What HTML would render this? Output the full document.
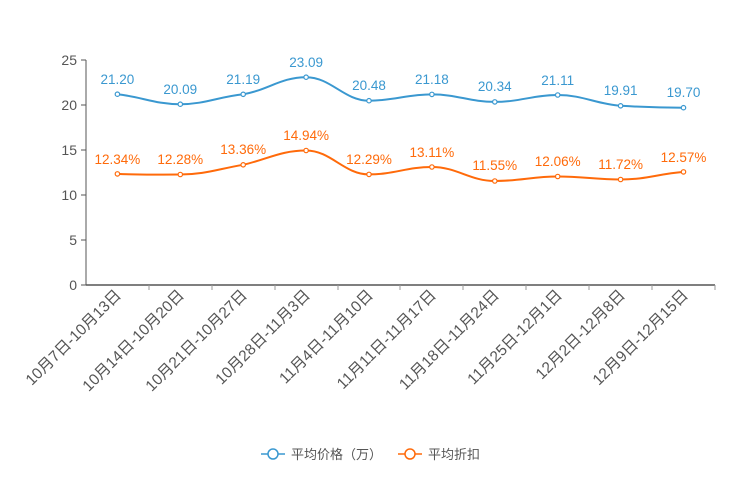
<!DOCTYPE html>
<html><head><meta charset="utf-8"><style>body{margin:0;background:#fff}svg{display:block}text{font-family:"Liberation Sans","Noto Sans CJK SC",sans-serif}.dv{font-family:"DejaVu Sans","Noto Sans CJK SC",sans-serif}</style></head><body>
<svg width="744" height="496" viewBox="0 0 744 496">
<g stroke="#555" stroke-width="1">
<line x1="86" y1="60" x2="86" y2="285"/><line x1="86" y1="285" x2="715" y2="285" stroke-width="1.5"/>
<line x1="81" y1="60" x2="86" y2="60"/><line x1="81" y1="105" x2="86" y2="105"/><line x1="81" y1="150" x2="86" y2="150"/><line x1="81" y1="195" x2="86" y2="195"/><line x1="81" y1="240" x2="86" y2="240"/><line x1="81" y1="285" x2="86" y2="285"/>
</g>
<g stroke="#999" stroke-width="1">
<line x1="149" y1="285" x2="149" y2="290"/><line x1="212" y1="285" x2="212" y2="290"/><line x1="275" y1="285" x2="275" y2="290"/><line x1="338" y1="285" x2="338" y2="290"/><line x1="400" y1="285" x2="400" y2="290"/><line x1="463" y1="285" x2="463" y2="290"/><line x1="526" y1="285" x2="526" y2="290"/><line x1="589" y1="285" x2="589" y2="290"/><line x1="652" y1="285" x2="652" y2="290"/><line x1="715" y1="285" x2="715" y2="290"/>
</g>
<g font-size="14" fill="#555" text-anchor="end" class="dv">
<text x="77" y="65">25</text><text x="77" y="110">20</text><text x="77" y="155">15</text><text x="77" y="200">10</text><text x="77" y="245">5</text><text x="77" y="290">0</text>
</g>
<g font-size="15.5" fill="#555" text-anchor="end">
<text transform="translate(122,296) rotate(-45)">10月7日-10月13日</text>
<text transform="translate(185,296) rotate(-45)">10月14日-10月20日</text>
<text transform="translate(248,296) rotate(-45)">10月21日-10月27日</text>
<text transform="translate(311,296) rotate(-45)">10月28日-11月3日</text>
<text transform="translate(374,296) rotate(-45)">11月4日-11月10日</text>
<text transform="translate(437,296) rotate(-45)">11月11日-11月17日</text>
<text transform="translate(500,296) rotate(-45)">11月18日-11月24日</text>
<text transform="translate(563,296) rotate(-45)">11月25日-12月1日</text>
<text transform="translate(626,296) rotate(-45)">12月2日-12月8日</text>
<text transform="translate(689,296) rotate(-45)">12月9日-12月15日</text>
</g>
<path fill="none" stroke="#3a98d0" stroke-width="2" d="M117.4,94.2 C142,97 155,104.2 180.3,104.2 C205,104.2 218,97 243.2,94.3 C268,90 281,77.2 306.1,77.2 C331,77.2 344,100.7 369,100.7 C394,100.7 407,94.4 431.9,94.4 C457,94.4 470,101.9 494.8,101.9 C520,101.9 533,95 557.7,95 C583,95 596,104 620.6,105.8 C646,107.3 658,107.7 683.5,107.7"/>
<path fill="none" stroke="#ff6a0a" stroke-width="2" d="M117.4,173.9 C142,175 155,174.5 180.3,174.5 C205,174.5 218,169 243.2,164.8 C268,159 281,150.5 306.1,150.5 C331,150.5 344,174.4 369,174.4 C394,174.4 407,167 431.9,167 C457,167 470,181 494.8,181 C520,181 533,176.5 557.7,176.5 C583,176.5 596,179.5 620.6,179.5 C646,179.5 658,174 683.5,171.9"/>
<g fill="#fff" stroke="#3a98d0" stroke-width="1.2">
<circle cx="117.4" cy="94.2" r="2.2"/><circle cx="180.3" cy="104.2" r="2.2"/><circle cx="243.2" cy="94.3" r="2.2"/><circle cx="306.1" cy="77.2" r="2.2"/><circle cx="369" cy="100.7" r="2.2"/><circle cx="431.9" cy="94.4" r="2.2"/><circle cx="494.8" cy="101.9" r="2.2"/><circle cx="557.7" cy="95" r="2.2"/><circle cx="620.6" cy="105.8" r="2.2"/><circle cx="683.5" cy="107.7" r="2.2"/>
</g>
<g fill="#fff" stroke="#ff6a0a" stroke-width="1.2">
<circle cx="117.4" cy="173.9" r="2.2"/><circle cx="180.3" cy="174.5" r="2.2"/><circle cx="243.2" cy="164.8" r="2.2"/><circle cx="306.1" cy="150.5" r="2.2"/><circle cx="369" cy="174.4" r="2.2"/><circle cx="431.9" cy="167" r="2.2"/><circle cx="494.8" cy="181" r="2.2"/><circle cx="557.7" cy="176.5" r="2.2"/><circle cx="620.6" cy="179.5" r="2.2"/><circle cx="683.5" cy="171.9" r="2.2"/>
</g>
<g font-size="13.5" fill="#3a98d0" text-anchor="middle" class="dv">
<text x="117.4" y="84">21.20</text><text x="180.3" y="94">20.09</text><text x="243.2" y="84">21.19</text><text x="306.1" y="67">23.09</text><text x="369" y="90">20.48</text><text x="431.9" y="84">21.18</text><text x="494.8" y="91">20.34</text><text x="557.7" y="85">21.11</text><text x="620.6" y="95">19.91</text><text x="683.5" y="97">19.70</text>
</g>
<g font-size="13.5" fill="#ff6a0a" text-anchor="middle" class="dv">
<text x="117.4" y="164">12.34%</text><text x="180.3" y="164">12.28%</text><text x="243.2" y="154">13.36%</text><text x="306.1" y="140">14.94%</text><text x="369" y="164">12.29%</text><text x="431.9" y="157">13.11%</text><text x="494.8" y="170">11.55%</text><text x="557.7" y="166">12.06%</text><text x="620.6" y="169">11.72%</text><text x="683.5" y="162">12.57%</text>
</g>
<g>
<line x1="261" y1="454" x2="285" y2="454" stroke="#3a98d0" stroke-width="1.5"/><circle cx="273" cy="454" r="5" fill="#fff" stroke="#3a98d0" stroke-width="1.5"/>
<text x="291" y="459" font-size="13" fill="#555">平均价格（万）</text>
<line x1="398" y1="454" x2="422" y2="454" stroke="#ff6a0a" stroke-width="1.5"/><circle cx="410" cy="454" r="5" fill="#fff" stroke="#ff6a0a" stroke-width="1.5"/>
<text x="428" y="459" font-size="13" fill="#555">平均折扣</text>
</g>
</svg>
</body></html>
